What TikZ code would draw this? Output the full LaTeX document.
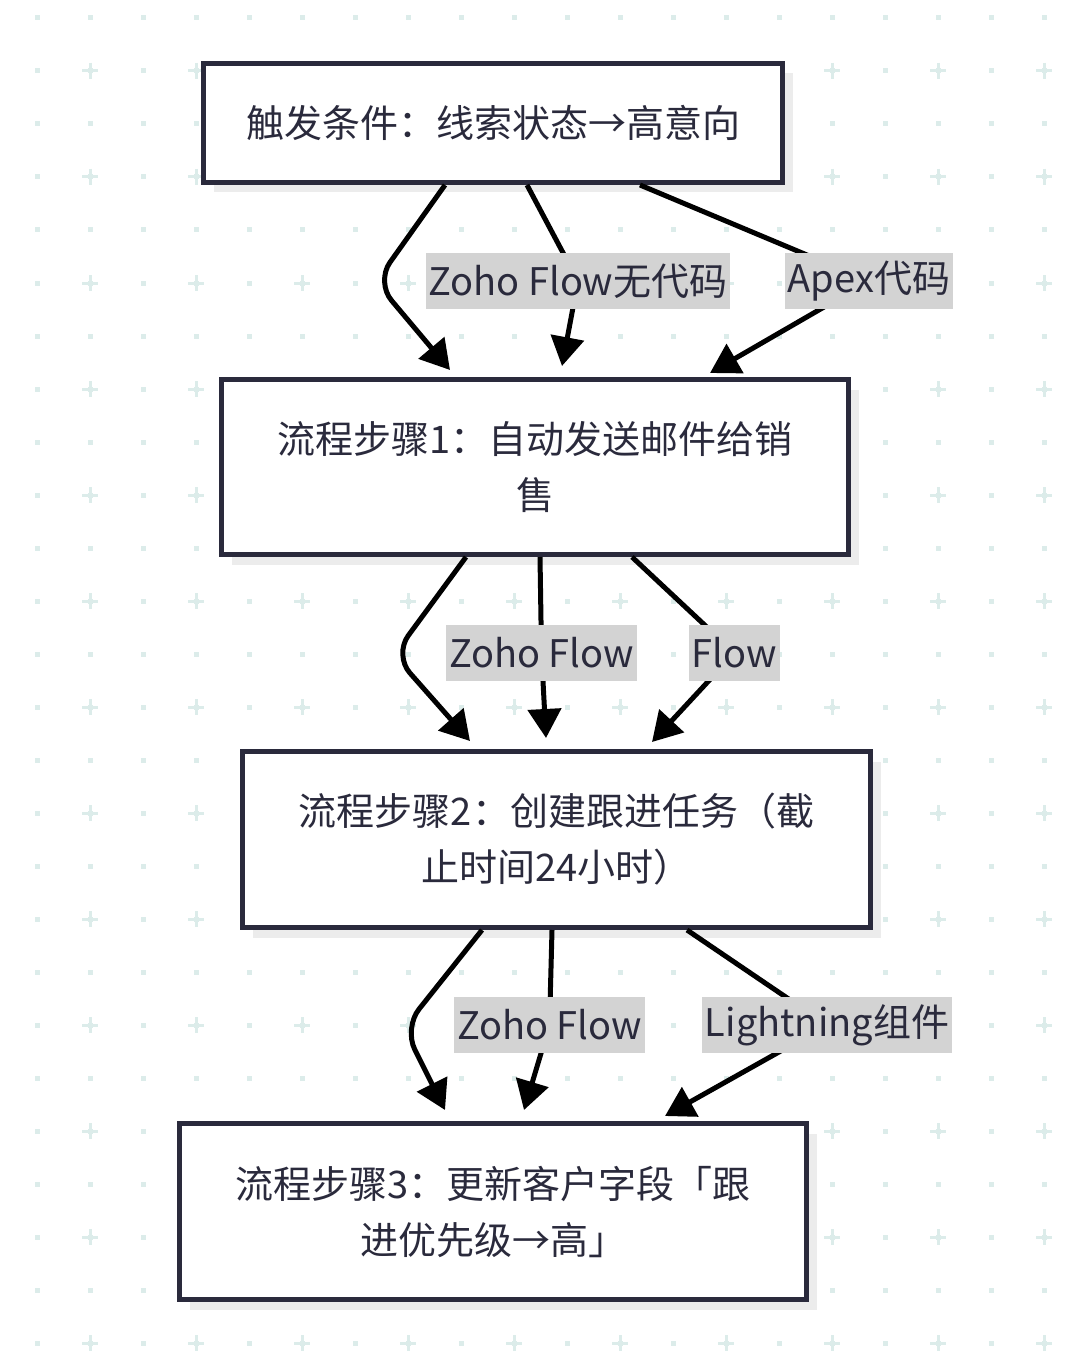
\documentclass[tikz,border=0pt]{standalone}
\usepackage{fontspec}
\setmainfont{Noto Sans CJK SC}
\usetikzlibrary{arrows.meta,shadows}
\definecolor{navy}{RGB}{42,42,60}
\definecolor{gridc}{RGB}{220,236,234}
\definecolor{shadowc}{RGB}{236,236,236}
\definecolor{labelgray}{RGB}{211,211,211}

\begin{document}
\begin{tikzpicture}[x=1pt,y=-1pt,
    stepbox/.style={rectangle, draw=navy, line width=5pt, fill=white, text=navy, align=center,
      font=\fontsize{38pt}{56pt}\selectfont,
      drop shadow={shadow xshift=10pt, shadow yshift=-10pt, fill=shadowc, opacity=1}},
    lbl/.style={rectangle, fill=labelgray, text=navy, inner xsep=3pt, inner ysep=0pt,
      minimum height=56pt, font=\fontsize{38pt}{46pt}\selectfont},
    flow/.style={line width=5pt, -{Triangle[length=29pt,width=33pt]}}]

        \useasboundingbox (0,0) rectangle (1082,1356);
        \fill[white] (0,0) rectangle (1082,1356);
        \foreach \x in {37,90,...,1044}
          \foreach \y in {18,71,...,1343}
            \fill[gridc] ({\x-2.5},{\y-2.5}) rectangle ++(5,5);
        \foreach \x in {90,196,...,1044}
          \foreach \y in {71,177,...,1343}
            \draw[gridc, line width=3pt] ({\x-8},\y) -- ++(16,0) (\x,{\y-8}) -- ++(0,16);

        \node[stepbox, minimum width=579pt, minimum height=119pt] (trig) at (493,123)
             {触发条件：线索状态→高意向};
        \node[stepbox, minimum width=627pt, minimum height=175pt] (step1) at (535,467)
             {流程步骤1：自动发送邮件给销\\售};
        \node[stepbox, minimum width=628pt, minimum height=176pt] (step2) at (556.5,839.5)
             {流程步骤2：创建跟进任务（截\\止时间24小时）};
        \node[stepbox, minimum width=627pt, minimum height=176pt] (step3) at (493,1211.5)
             {流程步骤3：更新客户字段「跟\\进优先级→高」};

        \coordinate (bend1) at (376,282);
        \coordinate (bend2) at (394,655);
        \coordinate (bend3) at (404,1028);
        \coordinate (l1) at (578,281);
        \coordinate (l2) at (869,281);
        \coordinate (l3) at (541.5,653);
        \coordinate (l4) at (734.5,653);
        \coordinate (l5) at (549.5,1025);
        \coordinate (l6) at (827,1025);

        \draw[flow, rounded corners=24pt] ([xshift=-48pt]trig.south) -- (bend1) --
             ([xshift=-85pt,yshift=7pt]step1.north);
        \draw[flow] ([xshift=34pt]trig.south) -- (l1) -- ([xshift=27pt,yshift=11pt]step1.north);
        \draw[flow] ([xshift=147pt]trig.south) -- (l2) -- ([xshift=175pt,yshift=4pt]step1.north);

        \draw[flow, rounded corners=24pt] ([xshift=-69pt]step1.south) -- (bend2) --
             ([xshift=-86.5pt,yshift=8pt]step2.north);
        \draw[flow] ([xshift=5pt]step1.south) -- (l3) -- ([xshift=-10.5pt,yshift=11pt]step2.north);
        \draw[flow] ([xshift=97pt]step1.south) -- (l4) -- ([xshift=95.5pt,yshift=7pt]step2.north);

        \draw[flow, rounded corners=24pt] ([xshift=-74.5pt]step2.south) -- (bend3) --
             ([xshift=-48pt,yshift=11pt]step3.north);
        \draw[flow] ([xshift=-4.5pt]step2.south) -- (l5) -- ([xshift=31pt,yshift=11pt]step3.north);
        \draw[flow] ([xshift=130.5pt]step2.south) -- (l6) -- ([xshift=172pt,yshift=5pt]step3.north);

        \node[lbl] (lab1) at (l1) {Zoho Flow无代码};
        \node[lbl] (lab2) at (l2) {Apex代码};
        \node[lbl] (lab3) at (l3) {Zoho Flow};
        \node[lbl] (lab4) at (l4) {Flow};
        \node[lbl] (lab5) at (l5) {Zoho Flow};
        \node[lbl] (lab6) at (l6) {Lightning组件};
\end{tikzpicture}
\end{document}
